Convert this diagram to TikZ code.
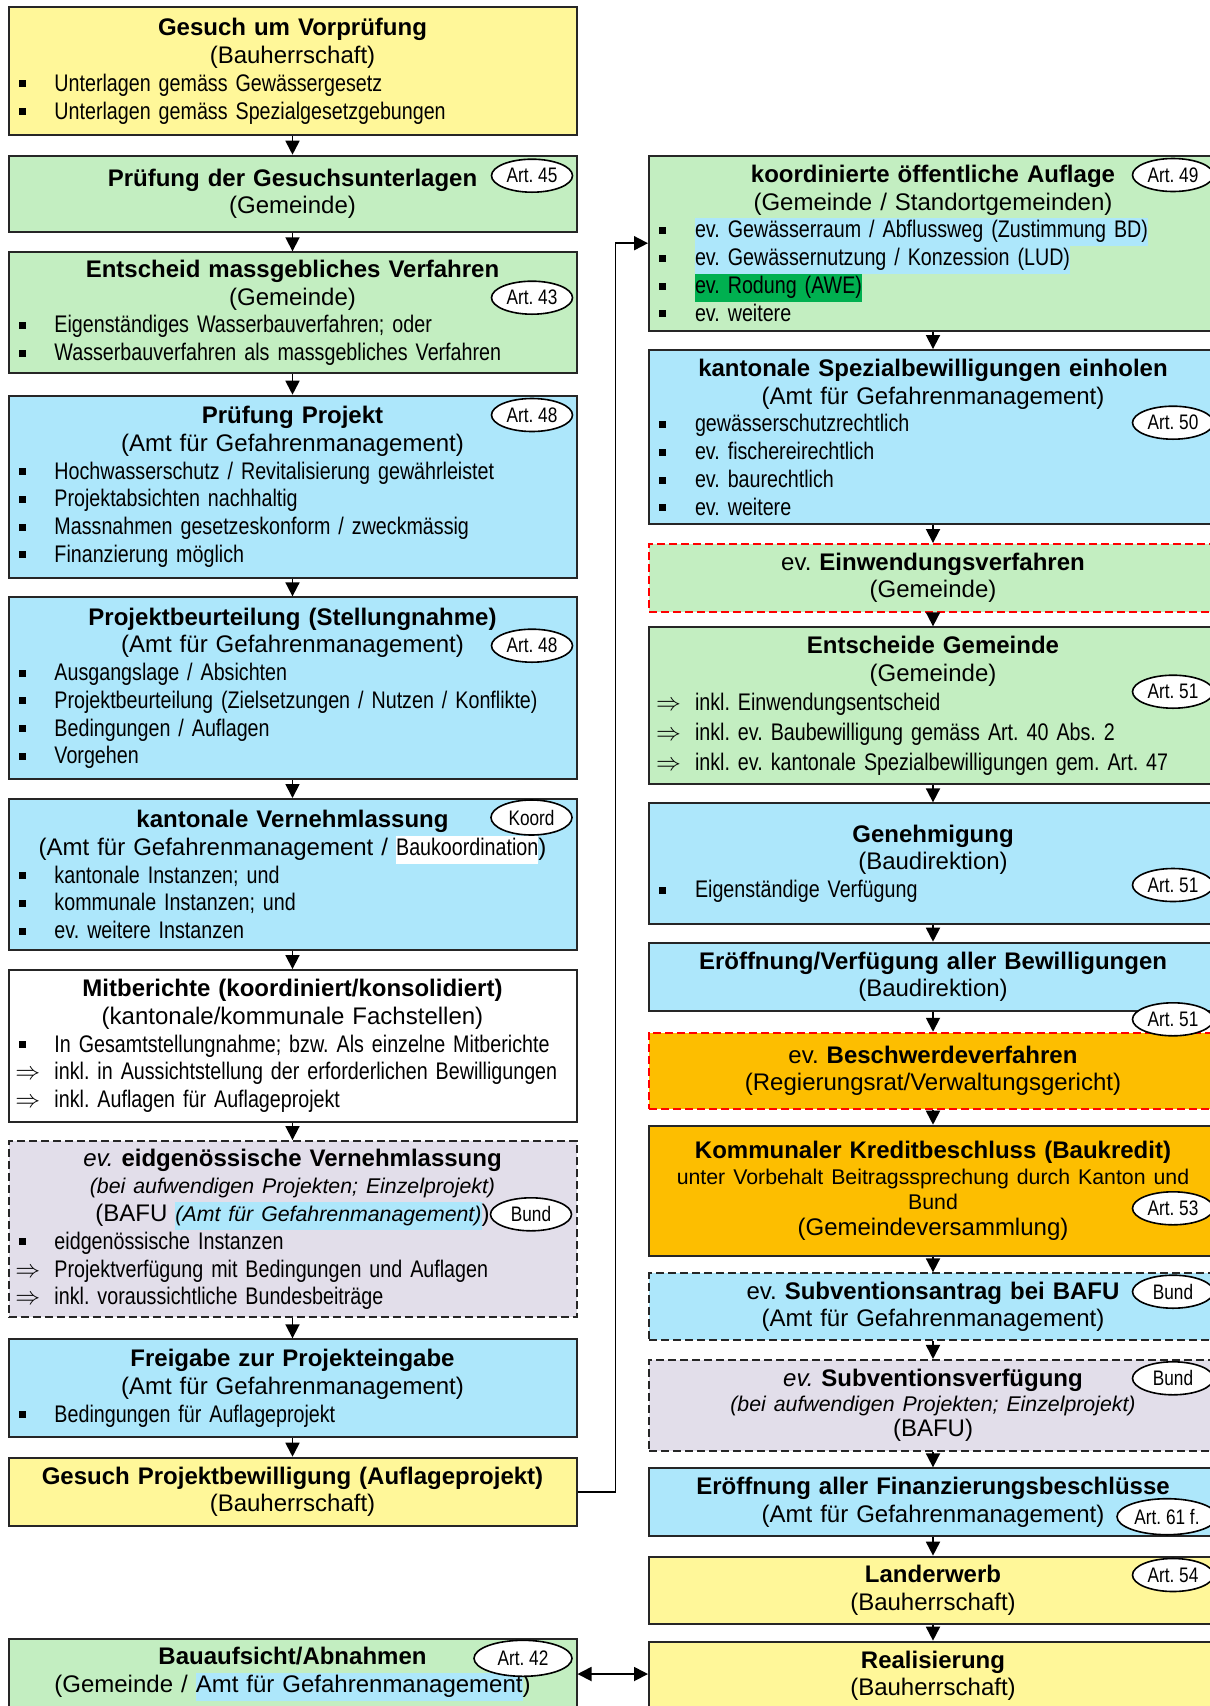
\documentclass[tikz,border=0pt]{standalone}
\usepackage{fontspec}
\setmainfont{Liberation Sans}
\newfontfamily\narrowfont[FakeStretch=0.82]{Liberation Sans}
\usepackage{xcolor}
\usepackage{tikz}
\usetikzlibrary{positioning,shapes.geometric,arrows.meta,calc}
\frenchspacing

\definecolor{gelb}{HTML}{FFF799}
\definecolor{gruen}{HTML}{C3EEC1}
\definecolor{blau}{HTML}{ADE7FB}
\definecolor{lila}{HTML}{E2DEEA}
\definecolor{amber}{HTML}{FDBE00}
\definecolor{dgruen}{HTML}{00B050}

\newcommand\bsq{\rule[3.8pt]{7pt}{7pt}}
\newcommand\bpunkt[1]{\makebox[\linewidth][l]{\makebox[46pt][l]{\hspace*{10pt}\bsq}{\narrowfont #1}}}
\newcommand\bpfeil[1]{\makebox[\linewidth][l]{\makebox[46pt][l]{\hspace*{7pt}$\Rightarrow$}{\narrowfont #1}}}
\newcommand\hlbox[2]{{\setlength{\fboxsep}{0pt}\colorbox{#1}{\strut #2}}}
\newcommand\kleintxt{\fontsize{21.3}{27.75}\selectfont}
\newcommand\rpad{\hspace*{40pt}}

\begin{document}
\begin{tikzpicture}[x=1pt, y=-1pt,
    box/.style={draw=black!85, line width=2pt, rectangle, inner sep=0pt, text width=568pt, align=center, font=\fontsize{24}{27.75}\selectfont},
    dbox/.style={box, dash pattern=on 8pt off 4pt},
    rbox/.style={dbox, draw=red},
    art/.style={draw, ellipse, fill=white, line width=1.6pt, inner sep=0pt, minimum width=81pt, minimum height=33pt, font=\fontsize{21}{24}\narrowfont},
    flow/.style={-{Triangle[length=14pt,width=14pt]}, line width=1.8pt},
    dflow/.style={{Triangle[length=14pt,width=14pt]}-{Triangle[length=14pt,width=14pt]}, line width=1.8pt}]
    \useasboundingbox (0,0) rectangle (1210,1706);
    \clip (0,0) rectangle (1210,1706);

    \node[box, fill=gelb, minimum height=127.7pt] (vorpruefung) at (292.5,71.2) {\textbf{Gesuch um Vorprüfung}\\(Bauherrschaft)\\\bpunkt{Unterlagen gemäss Gewässergesetz}\\\bpunkt{Unterlagen gemäss Spezialgesetzgebungen}};
    \node[box, fill=gruen, minimum height=76pt] (gesuchpruef) at (292.5,193.7) {\textbf{Prüfung der Gesuchsunterlagen}\\(Gemeinde)};
    \node[box, fill=gruen, minimum height=121pt] (verfahren) at (292.5,312.8) {\textbf{Entscheid massgebliches Verfahren}\\(Gemeinde)\\\bpunkt{Eigenständiges Wasserbauverfahren; oder}\\\bpunkt{Wasserbauverfahren als massgebliches Verfahren}};
    \node[box, fill=blau, minimum height=182pt] (projpruef) at (292.5,486.7) {\textbf{Prüfung Projekt}\\(Amt für Gefahrenmanagement)\\\bpunkt{Hochwasserschutz / Revitalisierung gewährleistet}\\\bpunkt{Projektabsichten nachhaltig}\\\bpunkt{Massnahmen gesetzeskonform / zweckmässig}\\\bpunkt{Finanzierung möglich}};
    \node[box, fill=blau, minimum height=181.7pt] (beurteilung) at (292.5,688.2) {\textbf{Projektbeurteilung (Stellungnahme)}\\(Amt für Gefahrenmanagement)\\\bpunkt{Ausgangslage / Absichten}\\\bpunkt{Projektbeurteilung (Zielsetzungen / Nutzen / Konflikte)}\\\bpunkt{Bedingungen / Auflagen}\\\bpunkt{Vorgehen}};
    \node[box, fill=blau, minimum height=151pt] (kantvernehm) at (292.5,874.5) {\textbf{kantonale Vernehmlassung}\\(Amt für Gefahrenmanagement / \hlbox{white}{\narrowfont Baukoordination})\\\bpunkt{kantonale Instanzen; und}\\\bpunkt{kommunale Instanzen; und}\\\bpunkt{ev. weitere Instanzen}};
    \node[box, fill=white, minimum height=151.7pt] (mitberichte) at (292.5,1045.9) {\textbf{Mitberichte (koordiniert/konsolidiert)}\\(kantonale/kommunale Fachstellen)\\\bpunkt{In Gesamtstellungnahme; bzw. Als einzelne Mitberichte}\\\bpfeil{inkl. in Aussichtstellung der erforderlichen Bewilligungen}\\\bpfeil{inkl. Auflagen für Auflageprojekt}};
    \node[dbox, fill=lila, minimum height=176.3pt] (eidgvernehm) at (292.5,1229.2) {\textit{ev.} \textbf{eidgenössische Vernehmlassung}\\{\kleintxt\itshape (bei aufwendigen Projekten; Einzelprojekt)}\\(BAFU \hlbox{blau}{\kleintxt\itshape (Amt für Gefahrenmanagement)})\\\bpunkt{eidgenössische Instanzen}\\\bpfeil{Projektverfügung mit Bedingungen und Auflagen}\\\bpfeil{inkl. voraussichtliche Bundesbeiträge}};
    \node[box, fill=blau, minimum height=98pt] (freigabe) at (292.5,1388.3) {\textbf{Freigabe zur Projekteingabe}\\(Amt für Gefahrenmanagement)\\\bpunkt{Bedingungen für Auflageprojekt}};
    \node[box, fill=gelb, minimum height=68pt] (gesuchbew) at (292.5,1491.7) {\textbf{Gesuch Projektbewilligung (Auflageprojekt)}\\(Bauherrschaft)};
    \node[box, fill=gruen, minimum height=70pt] (bauaufsicht) at (292.5,1674) {\textbf{Bauaufsicht/Abnahmen}\\(Gemeinde / \hlbox{blau}{Amt für Gefahrenmanagement})};

    \node[box, fill=gruen, minimum height=175pt] (auflage) at (933,243.2) {\textbf{koordinierte öffentliche Auflage}\\(Gemeinde / Standortgemeinden)\\\bpunkt{\hlbox{blau}{ev. Gewässerraum / Abflussweg (Zustimmung BD)}}\\\bpunkt{\hlbox{blau}{ev. Gewässernutzung / Konzession (LUD)}}\\\bpunkt{\hlbox{dgruen}{ev. Rodung (AWE)}}\\\bpunkt{ev. weitere}};
    \node[box, fill=blau, minimum height=174.3pt] (spezial) at (933,437.2) {\textbf{kantonale Spezialbewilligungen einholen}\\(Amt für Gefahrenmanagement)\\\bpunkt{gewässerschutzrechtlich}\\\bpunkt{ev. fischereirechtlich}\\\bpunkt{ev. baurechtlich}\\\bpunkt{ev. weitere}};
    \node[rbox, fill=gruen, minimum height=67.7pt] (einwendung) at (933,577.9) {ev. \textbf{Einwendungsverfahren}\\(Gemeinde)};
    \node[box, fill=gruen, minimum height=156.7pt] (entscheide) at (933,705.7) {\textbf{Entscheide Gemeinde}\\(Gemeinde)\\[2pt]\bpfeil{inkl. Einwendungsentscheid}\\[2pt]\bpfeil{inkl. ev. Baubewilligung gemäss Art. 40 Abs. 2}\\[2pt]\bpfeil{inkl. ev. kantonale Spezialbewilligungen gem. Art. 47}};
    \node[box, fill=blau, minimum height=120.7pt] (genehmigung) at (933,863.7) {\textbf{Genehmigung}\\(Baudirektion)\\\bpunkt{Eigenständige Verfügung}};
    \node[box, fill=blau, minimum height=68pt] (bewilligungen) at (933,976.7) {\textbf{Eröffnung/Verfügung aller Bewilligungen}\\(Baudirektion)};
    \node[rbox, fill=amber, minimum height=76.3pt] (beschwerde) at (933,1070.9) {ev. \textbf{Beschwerdeverfahren}\\(Regierungsrat/Verwaltungsgericht)};
    \node[box, fill=amber, minimum height=130pt, font=\fontsize{24}{25.5}\selectfont] (kredit) at (933,1190.7) {\textbf{Kommunaler Kreditbeschluss (Baukredit)}\rpad\\{\kleintxt unter Vorbehalt Beitragssprechung durch Kanton und}\rpad\\{\kleintxt Bund}\rpad\\(Gemeindeversammlung)\rpad};
    \node[dbox, fill=blau, minimum height=66.7pt] (subvantrag) at (933,1306.7) {ev. \textbf{Subventionsantrag bei BAFU}\\(Amt für Gefahrenmanagement)};
    \node[dbox, fill=lila, minimum height=90.7pt, font=\fontsize{24}{25}\selectfont] (subvverfueg) at (933,1405.3) {\textit{ev.} \textbf{Subventionsverfügung}\\{\kleintxt\itshape (bei aufwendigen Projekten; Einzelprojekt)}\\(BAFU)};
    \node[box, fill=blau, minimum height=67.7pt] (finanz) at (933,1502.2) {\textbf{Eröffnung aller Finanzierungsbeschlüsse}\\(Amt für Gefahrenmanagement)};
    \node[box, fill=gelb, minimum height=67.3pt] (landerwerb) at (933,1590.3) {\textbf{Landerwerb}\\(Bauherrschaft)};
    \node[box, fill=gelb, minimum height=68.3pt] (realisierung) at (933,1675.8) {\textbf{Realisierung}\\(Bauherrschaft)};

    \node[art] (art45) at (532,175.7) {Art. 45};
    \node[art] (art43) at (532,297.7) {Art. 43};
    \node[art] (art48a) at (532,415) {Art. 48};
    \node[art] (art48b) at (532,645.7) {Art. 48};
    \node[art, minimum height=35pt] (koord) at (531.5,817.5) {Koord};
    \node[art] (bundeidg) at (531,1214.3) {Bund};
    \node[art, minimum width=98pt, minimum height=36pt] (art42) at (523,1658.3) {Art. 42};
    \node[art] (art49) at (1173,175) {Art. 49};
    \node[art] (art50) at (1173,422.7) {Art. 50};
    \node[art] (art51a) at (1173,691.7) {Art. 51};
    \node[art] (art51b) at (1173,885) {Art. 51};
    \node[art] (art51c) at (1173,1019.3) {Art. 51};
    \node[art] (art53) at (1173,1208.3) {Art. 53};
    \node[art] (bundantrag) at (1173,1291.7) {Bund};
    \node[art] (bundverf) at (1173,1378.3) {Bund};
    \node[art, minimum width=100pt, minimum height=36pt] (art61) at (1167,1516.7) {Art. 61 f.};
    \node[art] (art54) at (1173,1575) {Art. 54};

    \foreach \a/\b in {vorpruefung/gesuchpruef, gesuchpruef/verfahren, verfahren/projpruef, projpruef/beurteilung, beurteilung/kantvernehm, kantvernehm/mitberichte, mitberichte/eidgvernehm, eidgvernehm/freigabe, freigabe/gesuchbew}
        \draw[flow] (\a) -- (\b);
    \foreach \a/\b in {auflage/spezial, spezial/einwendung, einwendung/entscheide, entscheide/genehmigung, genehmigung/bewilligungen, bewilligungen/beschwerde, beschwerde/kredit, kredit/subvantrag, subvantrag/subvverfueg, subvverfueg/finanz, finanz/landerwerb, landerwerb/realisierung}
        \draw[flow] (\a) -- (\b);
    \draw[flow] (gesuchbew.east) -- ++(38,0) |- (auflage.west);
    \draw[dflow] (bauaufsicht.east) -- (bauaufsicht.east -| realisierung.west);
\end{tikzpicture}
\end{document}
